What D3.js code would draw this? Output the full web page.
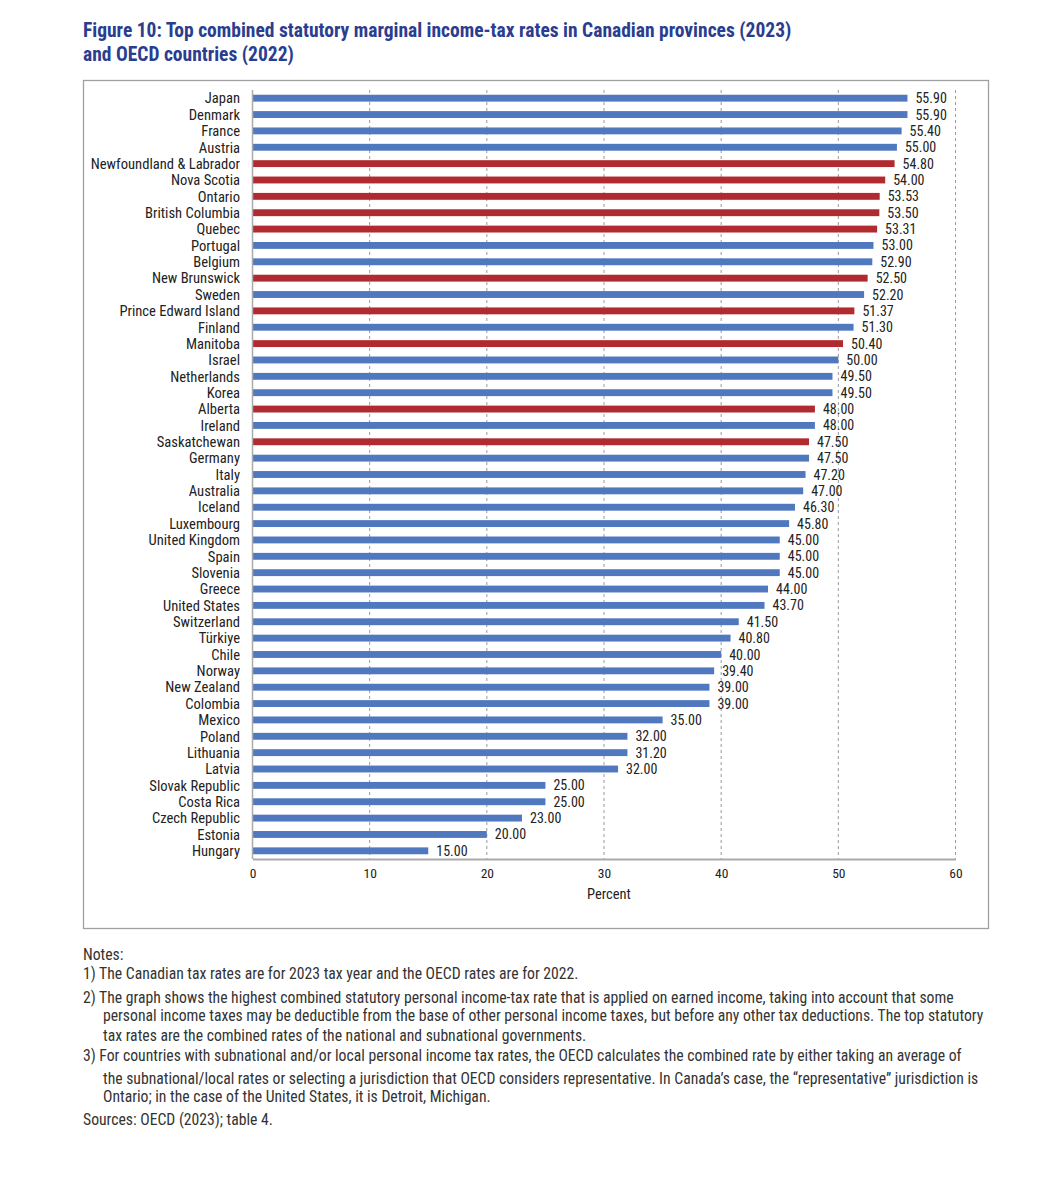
<!DOCTYPE html>
<html><head><meta charset="utf-8">
<script src="https://cdn.jsdelivr.net/npm/d3@7"></script>
<style>
body{margin:0;background:#fff;}
svg text{font-family:"Roboto Condensed","Liberation Sans Narrow",Roboto,sans-serif;}
</style></head>
<body><svg id="chart" width="1059" height="1200"></svg>
<script>
const categories = ["Japan","Denmark","France","Austria","Newfoundland & Labrador","Nova Scotia","Ontario","British Columbia","Quebec","Portugal","Belgium","New Brunswick","Sweden","Prince Edward Island","Finland","Manitoba","Israel","Netherlands","Korea","Alberta","Ireland","Saskatchewan","Germany","Italy","Australia","Iceland","Luxembourg","United Kingdom","Spain","Slovenia","Greece","United States","Switzerland","Türkiye","Chile","Norway","New Zealand","Colombia","Mexico","Poland","Lithuania","Latvia","Slovak Republic","Costa Rica","Czech Republic","Estonia","Hungary"];
const values = [55.90,55.90,55.40,55.00,54.80,54.00,53.53,53.50,53.31,53.00,52.90,52.50,52.20,51.37,51.30,50.40,50.00,49.50,49.50,48.00,48.00,47.50,47.50,47.20,47.00,46.30,45.80,45.00,45.00,45.00,44.00,43.70,41.50,40.80,40.00,39.40,39.00,39.00,35.00,32.00,32.00,31.20,25.00,25.00,23.00,20.00,15.00];
const valueLabels = ["55.90","55.90","55.40","55.00","54.80","54.00","53.53","53.50","53.31","53.00","52.90","52.50","52.20","51.37","51.30","50.40","50.00","49.50","49.50","48.00","48.00","47.50","47.50","47.20","47.00","46.30","45.80","45.00","45.00","45.00","44.00","43.70","41.50","40.80","40.00","39.40","39.00","39.00","35.00","32.00","31.20","32.00","25.00","25.00","23.00","20.00","15.00"];
const canadian = ["Newfoundland & Labrador","Nova Scotia","Ontario","British Columbia","Quebec","New Brunswick","Prince Edward Island","Manitoba","Alberta","Saskatchewan"];
const xTicks = [0,10,20,30,40,50,60];
const titleLines = ["Figure 10: Top combined statutory marginal income-tax rates in Canadian provinces (2023)","and OECD countries (2022)"];
const axisTitle = "Percent";
const notes = [
 {t:"Notes:", indent:false},
 {t:"1) The Canadian tax rates are for 2023 tax year and the OECD rates are for 2022.", indent:false},
 {t:"2) The graph shows the highest combined statutory personal income-tax rate that is applied on earned income, taking into account that some", indent:false},
 {t:"personal income taxes may be deductible from the base of other personal income taxes, but before any other tax deductions. The top statutory", indent:true},
 {t:"tax rates are the combined rates of the national and subnational governments.", indent:true},
 {t:"3) For countries with subnational and/or local personal income tax rates, the OECD calculates the combined rate by either taking an average of", indent:false},
 {t:"the subnational/local rates or selecting a jurisdiction that OECD considers representative. In Canada’s case, the “representative” jurisdiction is", indent:true},
 {t:"Ontario; in the case of the United States, it is Detroit, Michigan.", indent:true},
 {t:"Sources: OECD (2023); table 4.", indent:false}
];

(function(){
const svg = d3.select("#chart");
const data = categories.map((c,i)=>({c, v:values[i], lab:valueLabels[i], ca:canadian.includes(c)}));

// title
const titleY = [37, 61];
svg.selectAll(".title").data(titleLines).join("text")
  .attr("x",83).attr("y",(d,i)=>titleY[i])
  .attr("font-size",19.5).attr("font-weight",700).attr("fill","#2a3d8f").text(d=>d);

// frame
svg.append("rect").attr("x",83.5).attr("y",80.5).attr("width",905).attr("height",848)
  .attr("fill","none").attr("stroke","#a0a0a0").attr("stroke-width",1.3);

const pLeft=252.5, pRight=955.5, pTop=90, pBottom=859;
const x = d3.scaleLinear().domain([0,60]).range([pLeft,pRight]);
const y = d3.scaleBand().domain(categories).range([pTop,pBottom]).paddingInner(0.58).paddingOuter(0.29);

// gridlines
svg.append("g").selectAll("line").data(xTicks.filter(t=>t>0)).join("line")
  .attr("x1",d=>x(d)).attr("x2",d=>x(d)).attr("y1",pTop).attr("y2",pBottom)
  .attr("stroke","#9a9a9a").attr("stroke-width",1).attr("stroke-dasharray","3,3");

// bars
svg.append("g").selectAll("rect").data(data).join("rect")
  .attr("x",x(0)).attr("y",d=>y(d.c)).attr("width",d=>x(d.v)-x(0)).attr("height",y.bandwidth())
  .attr("fill",d=>d.ca?"#b02a30":"#4f78be");

// value labels
svg.append("g").selectAll("text").data(data).join("text")
  .attr("x",d=>x(d.v)+8).attr("y",d=>y(d.c)+y.bandwidth()/2).attr("dy","0.36em")
  .attr("font-size",14).attr("fill","#222").text(d=>d.lab);

// category labels
svg.append("g").selectAll("text").data(data).join("text")
  .attr("x",240).attr("y",d=>y(d.c)+y.bandwidth()/2).attr("dy","0.36em")
  .attr("text-anchor","end").attr("font-size",14.6).attr("fill","#222").text(d=>d.c);

// axes lines
svg.append("line").attr("x1",pLeft).attr("x2",pLeft).attr("y1",pTop).attr("y2",pBottom)
  .attr("stroke","#aaa").attr("stroke-width",1.5);
const xAxis = d3.axisBottom(x).tickValues(xTicks).tickSize(0).tickPadding(9).tickFormat(d3.format("d"));
const gx = svg.append("g").attr("transform",`translate(0,${pBottom})`).call(xAxis);
gx.select(".domain").attr("stroke","#aaa").attr("stroke-width",2);
gx.selectAll("text").attr("font-size",13.5).attr("fill","#222")
  .attr("font-family",'"Roboto Condensed","Liberation Sans Narrow",Roboto,sans-serif');

svg.append("text").attr("x",609).attr("y",899).attr("text-anchor","middle")
  .attr("font-size",14.5).attr("fill","#222").text(axisTitle);

// notes
const noteY = [960,979,1003,1021,1041,1061,1084,1102,1125];
svg.append("g").selectAll("text").data(notes).join("text")
  .attr("x",d=>d.indent?103:83).attr("y",(d,i)=>noteY[i])
  .attr("font-size",15.7).attr("fill","#333").text(d=>d.t);
})();
</script></body></html>
